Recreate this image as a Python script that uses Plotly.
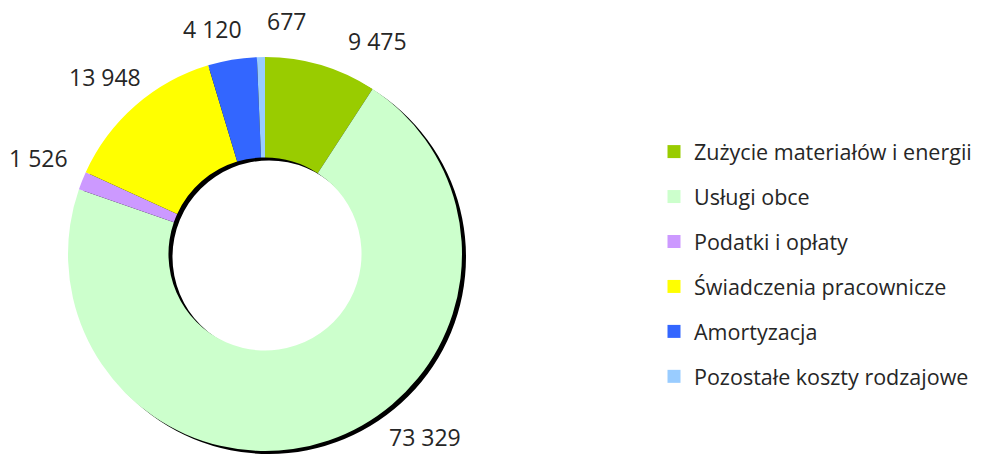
import math
import plotly.graph_objects as go

categories = ["Zużycie materiałów i energii", "Usługi obce", "Podatki i opłaty",
              "Świadczenia pracownicze", "Amortyzacja", "Pozostałe koszty rodzajowe"]
values = [9475, 73329, 1526, 13948, 4120, 677]
colors = ["#99CC00", "#CCFFCC", "#CC99FF", "#FFFF00", "#3366FF", "#99CCFF"]

# label placement nudges (degrees from slice mid-angle, distance from centre in px)
label_shift = [11.4, -22.3, 1.0, -1.0, -3.5, 6.5]
label_dist = [241, 243, 246, 239, 231, 234]

W, H = 981, 454
cx, cy, r = 265, 254, 197
hole = 0.49
font = "Open Sans"
txt = "#262626"

def dom(ox, oy):
    return dict(x=[max(0, (cx + ox - r) / W), min(1, (cx + ox + r) / W)],
                y=[max(0, (H - cy - oy - r) / H), min(1, (H - cy - oy + r) / H)])

fig = go.Figure()
# shadow ring
fig.add_trace(go.Pie(values=[sum(values)], labels=["shadow"], hole=hole, sort=False,
                     marker=dict(colors=["#000000"], line=dict(width=0)),
                     textinfo="none", hoverinfo="skip", showlegend=False,
                     domain=dom(4, 3)))
fig.add_trace(go.Pie(values=values, labels=categories, hole=hole, sort=False,
                     direction="clockwise", rotation=0,
                     marker=dict(colors=colors, line=dict(width=0)),
                     textinfo="none", showlegend=False, domain=dom(0, 0)))

# data labels positioned from the slice angles
total = sum(values)
cum = 0
for v, sh, d in zip(values, label_shift, label_dist):
    mid = (cum + v / 2) / total * 360 + sh
    cum += v
    a = math.radians(mid)
    px = cx + d * math.sin(a)
    py = cy - d * math.cos(a)
    fig.add_annotation(x=px / W, y=1 - py / H, xref="paper", yref="paper",
                       text=f"{v:,}".replace(",", " "), showarrow=False,
                       xanchor="center", yanchor="middle",
                       font=dict(family=font, size=23, color=txt))

# legend entries
for c, col in zip(categories, colors):
    fig.add_trace(go.Scatter(x=[None], y=[None], mode="markers", name=c,
                             legendgroup=c,
                             marker=dict(symbol="square", size=13, color=col)))

fig.update_layout(
    width=W, height=H, margin=dict(l=0, r=0, t=0, b=0),
    paper_bgcolor="white", plot_bgcolor="white",
    separators=", ",
    xaxis=dict(visible=False), yaxis=dict(visible=False),
    legend=dict(x=654 / W, y=0.7112, xanchor="left", yanchor="top",
                font=dict(family=font, size=21.5, color=txt),
                tracegroupgap=14, itemsizing="trace"),
)
fig.write_html("out.html", config={"displayModeBar": False},
               post_script="document.body.style.margin='0';document.body.style.overflow='hidden';")
